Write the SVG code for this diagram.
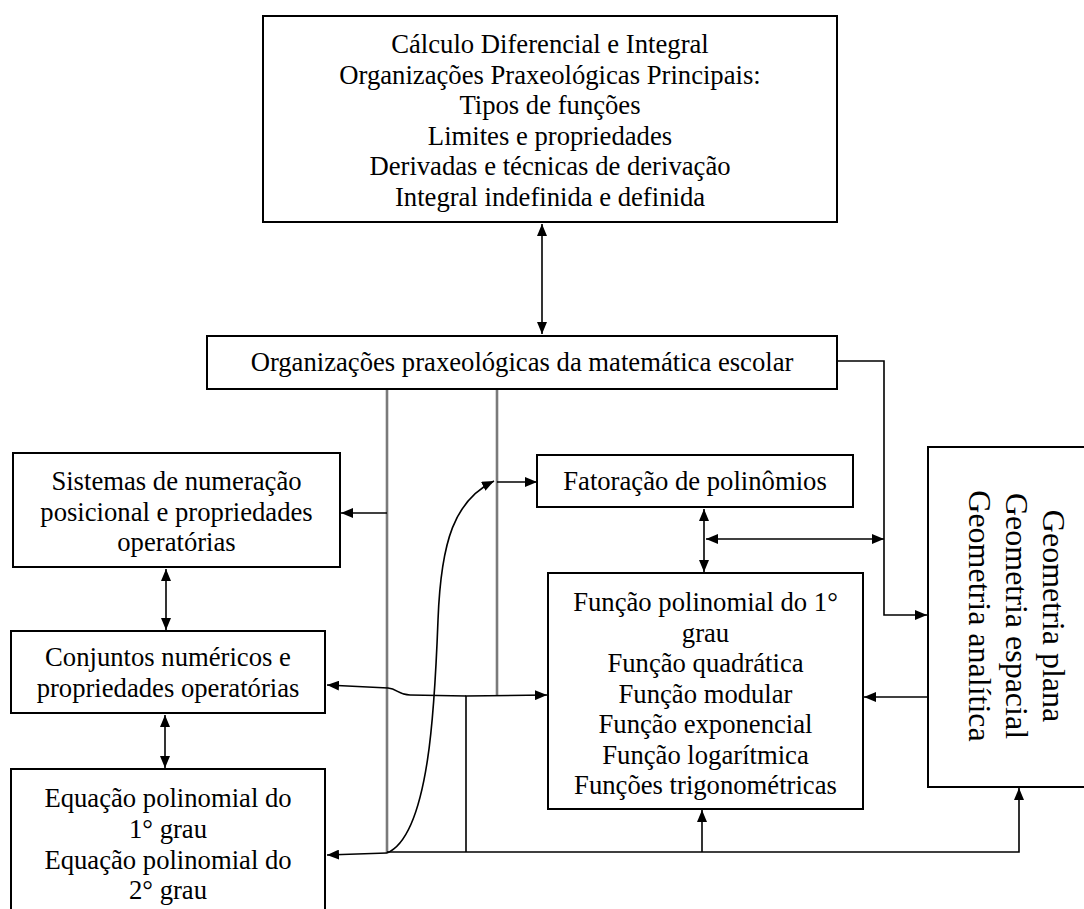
<svg xmlns="http://www.w3.org/2000/svg" width="1084" height="909" viewBox="0 0 1084 909">
<style>
.box{fill:#fff;stroke:#000;stroke-width:2}
.t{font-family:"Liberation Serif","Times New Roman",serif;font-size:26.67px;fill:#000;text-anchor:middle}
.g{font-size:32px}
.c{fill:none;stroke:#000;stroke-width:1.6}
.gr{fill:none;stroke:#7a7a7a;stroke-width:2.6}
</style>
<defs>
<marker id="ah" viewBox="0 0 12 10" refX="12" refY="5" markerWidth="12" markerHeight="10" markerUnits="userSpaceOnUse" orient="auto-start-reverse">
<path d="M0,0 L12,5 L0,10 z" fill="#000"/>
</marker>
</defs>
<rect width="1084" height="909" fill="#fff"/>

<g id="connectors">
<path class="gr" d="M387 389 L387 853"/>
<path class="gr" d="M497 389 L497 696"/>
<path class="c" d="M542 224 L542 334" marker-start="url(#ah)" marker-end="url(#ah)"/>
<path class="c" d="M838 361 L884 361 L884 615 L927 615" marker-end="url(#ah)"/>
<path class="c" d="M387 513 L341 513" marker-end="url(#ah)"/>
<path class="c" d="M387 853 C430 835 435 700 438 620 C441 540 455 500 494 481" marker-end="url(#ah)"/>
<path class="c" d="M497 482 L537 482" marker-end="url(#ah)"/>
<path class="c" d="M704 509 L704 572" marker-start="url(#ah)" marker-end="url(#ah)"/>
<path class="c" d="M706 539 L884 539" marker-start="url(#ah)" marker-end="url(#ah)"/>
<path class="c" d="M928 697 L864 697" marker-end="url(#ah)"/>
<path class="c" d="M166 569 L166 630" marker-start="url(#ah)" marker-end="url(#ah)"/>
<path class="c" d="M165 715 L165 768" marker-start="url(#ah)" marker-end="url(#ah)"/>
<path class="c" d="M466 696 L410 695 C398 695 398 689 388 688 L327 685" marker-end="url(#ah)"/>
<path class="c" d="M466 852 L466 696 L547 695" marker-end="url(#ah)"/>
<path class="c" d="M387 853 L327 855" marker-end="url(#ah)"/>
<path class="c" d="M387 852 L1019 852 L1019 788" marker-end="url(#ah)"/>
<path class="c" d="M702 852 L702 810" marker-end="url(#ah)"/>
</g>

<g id="calculo">
<rect class="box" x="263" y="16" width="574" height="206"/>
<text class="t" x="550" y="53">Cálculo Diferencial e Integral</text>
<text class="t" x="550" y="83.5">Organizações Praxeológicas Principais:</text>
<text class="t" x="550" y="114">Tipos de funções</text>
<text class="t" x="550" y="144.5">Limites e propriedades</text>
<text class="t" x="550" y="175">Derivadas e técnicas de derivação</text>
<text class="t" x="550" y="205.5">Integral indefinida e definida</text>
</g>

<g id="escolar">
<rect class="box" x="207" y="336" width="630" height="53"/>
<text class="t" x="522" y="371">Organizações praxeológicas da matemática escolar</text>
</g>

<g id="sistemas">
<rect class="box" x="13" y="453" width="327" height="114"/>
<text class="t" x="176.5" y="490">Sistemas de numeração</text>
<text class="t" x="176.5" y="520.5">posicional e propriedades</text>
<text class="t" x="176.5" y="551">operatórias</text>
</g>

<g id="conjuntos">
<rect class="box" x="11" y="631" width="314" height="82"/>
<text class="t" x="168" y="666">Conjuntos numéricos e</text>
<text class="t" x="168" y="696.5">propriedades operatórias</text>
</g>

<g id="equacao">
<rect class="box" x="11" y="769" width="314" height="160"/>
<text class="t" x="168" y="807">Equação polinomial do</text>
<text class="t" x="168" y="838">1° grau</text>
<text class="t" x="168" y="868.5">Equação polinomial do</text>
<text class="t" x="168" y="899">2° grau</text>
</g>

<g id="fatoracao">
<rect class="box" x="537" y="455" width="316" height="52"/>
<text class="t" x="695" y="490">Fatoração de polinômios</text>
</g>

<g id="funcoes">
<rect class="box" x="548" y="573" width="315" height="236"/>
<text class="t" x="705.5" y="611">Função polinomial do 1°</text>
<text class="t" x="705.5" y="641.5">grau</text>
<text class="t" x="705.5" y="672">Função quadrática</text>
<text class="t" x="705.5" y="702.5">Função modular</text>
<text class="t" x="705.5" y="733">Função exponencial</text>
<text class="t" x="705.5" y="763.5">Função logarítmica</text>
<text class="t" x="705.5" y="794">Funções trigonométricas</text>
</g>

<g id="geometria">
<rect class="box" x="928" y="447" width="200" height="340"/>
<text class="t g" transform="translate(1043,616) rotate(90)">Geometria plana</text>
<text class="t g" transform="translate(1006,616) rotate(90)">Geometria espacial</text>
<text class="t g" transform="translate(969,616) rotate(90)">Geometria analítica</text>
</g>
</svg>
